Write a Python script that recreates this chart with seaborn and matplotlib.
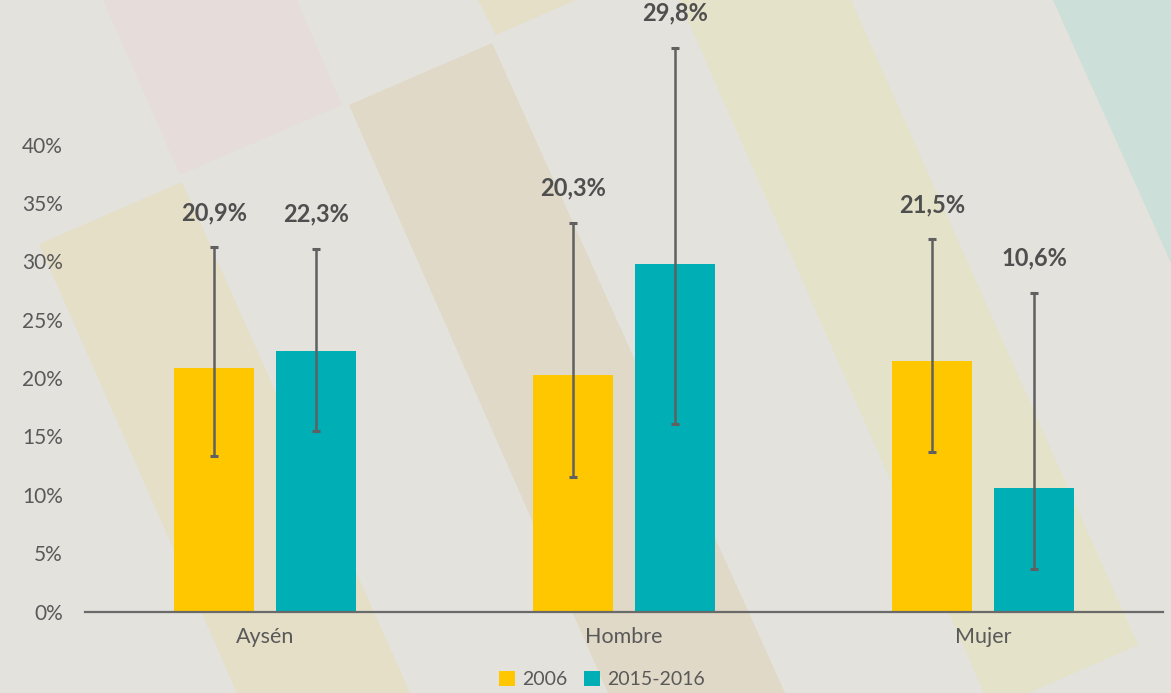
import matplotlib
matplotlib.use("Agg")
import matplotlib.pyplot as plt
from matplotlib.patches import Polygon, Patch
import seaborn as sns
import pandas as pd

# ---- data ----
categories = ["Aysén", "Hombre", "Mujer"]
periods = ["2006", "2015-2016"]
values_2006 = [20.9, 20.3, 21.5]
values_2015 = [22.3, 29.8, 10.6]
low_2006 = [13.3, 11.5, 13.7]
high_2006 = [31.2, 33.3, 31.9]
low_2015 = [15.5, 16.1, 3.6]
high_2015 = [31.1, 48.3, 27.3]
yticks = [0, 5, 10, 15, 20, 25, 30, 35, 40]

colors = ["#FFC700", "#00AEB6"]
text_grey = "#595959"
label_grey = "#4f4f4f"
err_grey = "#606060"

df = pd.DataFrame({
    "cat": categories * 2,
    "period": [periods[0]] * 3 + [periods[1]] * 3,
    "val": values_2006 + values_2015,
})

sns.set_theme(style="white")
plt.rcParams["font.family"] = ["Lato", "DejaVu Sans"]

W, H = 1171, 693
fig = plt.figure(figsize=(W / 100, H / 100), dpi=100)
fig.patch.set_facecolor("#E3E2DD")

# background decorative bands (pixel coords -> figure coords)
bands = [
    ([(103, 0), (297, 0), (342, 105), (180, 175)], "#E6DDDB"),
    ([(39, 244), (182, 182), (410, 693), (237, 693)], "#E5DFC8"),
    ([(349, 105), (492, 43), (785, 693), (608, 693)], "#E0D9C7"),
    ([(478, 0), (576, 0), (496, 35)], "#E5DFC8"),
    ([(679, 0), (851, 0), (1138, 645), (1029, 693), (984, 693)], "#E4E2C8"),
    ([(1053, 0), (1171, 0), (1171, 263)], "#CDDFD9"),
]
for pts, c in bands:
    poly = Polygon([(x / W, 1 - y / H) for x, y in pts], closed=True,
                   facecolor=c, edgecolor="none", transform=fig.transFigure,
                   zorder=-5)
    fig.add_artist(poly)

ax = fig.add_axes([85 / W, 1 - 611.5 / H, (1163 - 85) / W, 611.5 / H])
ax.set_facecolor("none")

sns.barplot(data=df, x="cat", y="val", hue="period", palette=colors,
            width=0.568, gap=0.2165, errorbar=None, ax=ax, legend=False,
            saturation=1, linewidth=0, edgecolor="none")

lows = [low_2006, low_2015]
highs = [high_2006, high_2015]
vals = [values_2006, values_2015]
bar_containers = list(ax.containers)
for ci, cont in enumerate(bar_containers):
    for bi, bar in enumerate(cont.patches):
        xc = bar.get_x() + bar.get_width() / 2
        v = vals[ci][bi]
        lo, hi = lows[ci][bi], highs[ci][bi]
        ax.errorbar([xc], [v], yerr=[[v - lo], [hi - v]], fmt="none",
                    ecolor=err_grey, elinewidth=1.8, capsize=2.8,
                    capthick=2.2, zorder=4)
        ax.annotate(f"{v:.1f}".replace(".", ",") + "%", (xc, hi),
                    xytext=(0, 25), textcoords="offset points",
                    ha="center", va="center", fontsize=17,
                    fontweight="bold", color=label_grey, zorder=5)

ax.set_xlim(-0.5, 2.5)
ax.set_ylim(0, 52.4)
ax.set_yticks(yticks)
ax.set_yticklabels([f"{t}%" for t in yticks])
ax.set_xlabel("")
ax.set_ylabel("")
ax.tick_params(axis="y", length=0, pad=16, labelsize=15, labelcolor=text_grey)
ax.tick_params(axis="x", length=0, pad=11, labelsize=15.5, labelcolor=text_grey)
for s in ["left", "right", "top"]:
    ax.spines[s].set_visible(False)
ax.spines["bottom"].set_color("#6A6A6A")
ax.spines["bottom"].set_linewidth(1.6)
ax.grid(False)

handles = [Patch(facecolor=c, edgecolor="none") for c in colors]
fig.legend(handles, periods, loc="center", bbox_to_anchor=(0.514, 0.019),
           ncol=2, frameon=False, fontsize=14, labelcolor=text_grey,
           handlelength=0.82, handleheight=0.82, handletextpad=0.35,
           columnspacing=0.9)

fig.savefig("out.png", dpi=100, facecolor=fig.get_facecolor())
